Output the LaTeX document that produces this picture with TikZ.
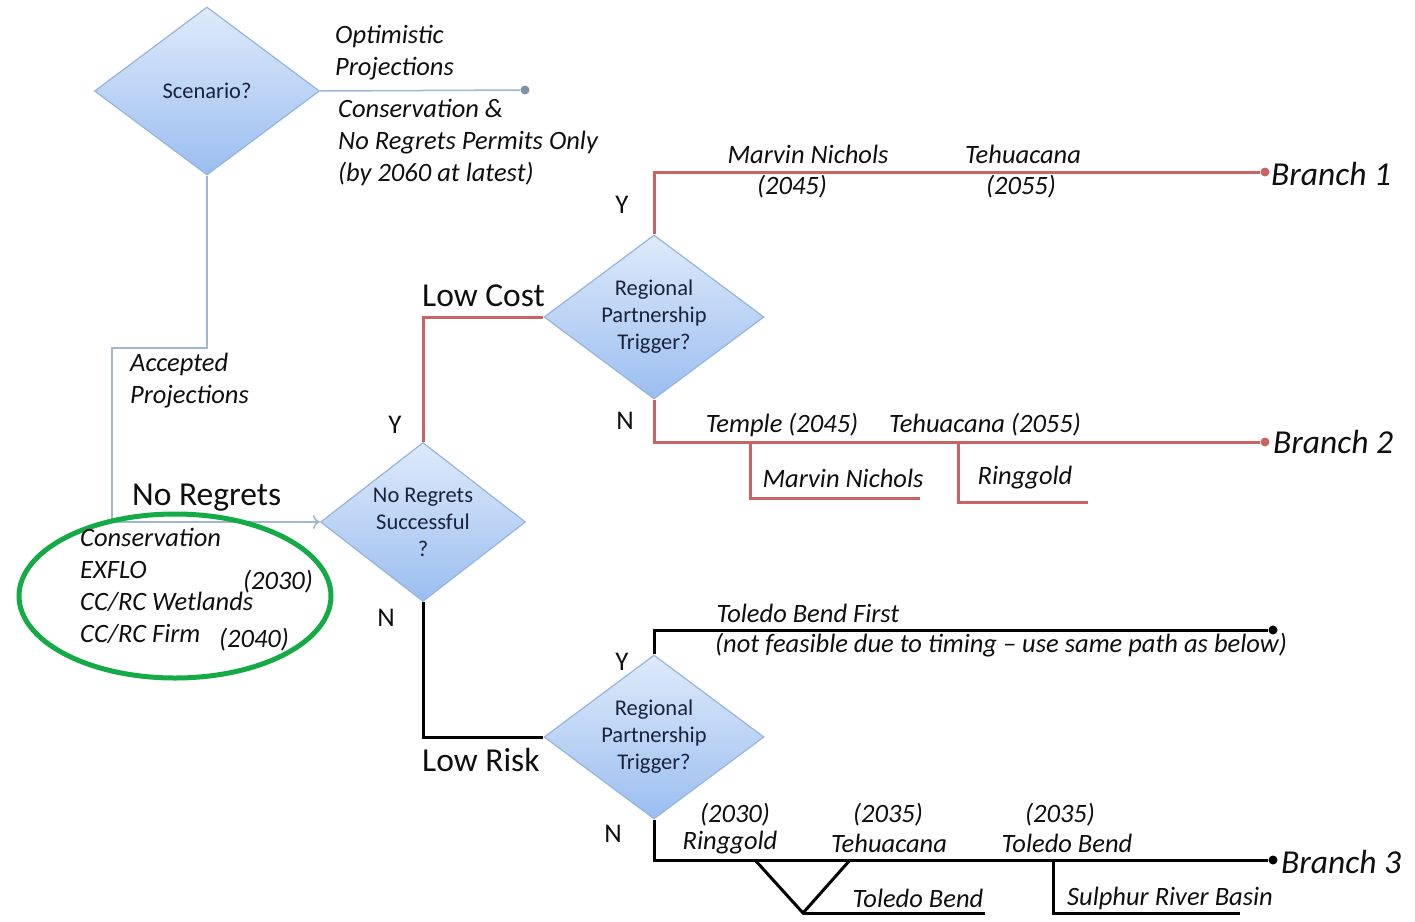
\documentclass[tikz,border=0pt]{standalone}
\usepackage{fontspec}
\setmainfont{Carlito}
\usetikzlibrary{shapes.geometric,arrows.meta}
\definecolor{bline}{RGB}{160,182,210}
\definecolor{rline}{RGB}{200,100,100}
\definecolor{dborder}{RGB}{150,180,220}
\definecolor{dtop}{RGB}{222,234,250}
\definecolor{dbot}{RGB}{155,190,240}
\definecolor{dtext}{RGB}{25,35,60}
\definecolor{txt}{RGB}{15,15,15}
\definecolor{egreen}{RGB}{20,170,70}
\tikzset{
  dec/.style={diamond, draw=dborder, line width=1.2pt, top color=dtop, bottom color=dbot,
    inner sep=0pt, align=center, text=dtext, font=\fontsize{22.5}{27}\selectfont},
  lab/.style={text=txt, font=\fontsize{26.5}{32}\selectfont\itshape, inner sep=0pt},
  big/.style={text=txt, font=\fontsize{33.5}{36}\selectfont, inner sep=0pt},
  yn/.style={text=txt, font=\fontsize{27}{30}\selectfont, inner sep=0pt},
  br/.style={text=txt, font=\fontsize{33.5}{36}\selectfont\itshape, inner sep=0pt},
  bluel/.style={draw=bline, line width=1.5pt},
  redl/.style={draw=rline, line width=3pt},
  blkl/.style={draw=black, line width=3pt},
  enddot/.style={circle, inner sep=0pt, minimum size=9pt},
}
\begin{document}
\begin{tikzpicture}[x=1pt,y=-1pt]
\useasboundingbox (0,0) rectangle (1415,921);
% decisions
\node[dec, minimum width=225pt, minimum height=168pt] (sc) at (207,91) {Scenario?};
\node[dec, minimum width=205pt, minimum height=159pt, aspect=1.3] (nr) at (423,522) {No Regrets\\Successful\\?};
\node[dec, minimum width=220pt, minimum height=164pt, aspect=1.34] (rp1) at (654,317) {Regional\\Partnership\\Trigger?};
\node[dec, minimum width=220pt, minimum height=164pt, aspect=1.34] (rp2) at (654,737) {Regional\\Partnership\\Trigger?};
% ends
\node[enddot, fill=bline!80!black] (d0) at (525,90) {};
\node[enddot, fill=rline] (b1) at (1265,172) {};
\node[enddot, fill=rline] (b2) at (1265,442) {};
\node[enddot, fill=black] (d3) at (1273,630) {};
\node[enddot, fill=black] (b3) at (1273,860) {};
\coordinate (c1) at (112,348);
% blue connectors
\draw[bluel] (sc.east) -- (d0);
\draw[bluel, -{To[length=7pt,width=14pt]}] (sc.south) |- (c1) |- (nr.west);
% red connectors
\draw[redl] (nr.north) |- (rp1.west);
\draw[redl] (rp1.north) |- (b1);
\draw[redl] (rp1.south) |- (b2);
\coordinate (s1) at (750,442); \coordinate (s1e) at (920,498);
\coordinate (s2) at (958,442); \coordinate (s2e) at (1088,502);
\draw[redl] (s1) |- (s1e);
\draw[redl] (s2) |- (s2e);
% black connectors
\draw[blkl] (nr.south) |- (rp2.west);
\draw[blkl] (rp2.north) |- (d3);
\draw[blkl] (rp2.south) |- (b3);
\coordinate (v1) at (755,860); \coordinate (v2) at (803,913); \coordinate (v3) at (850,860); \coordinate (v4) at (985,913);
\draw[blkl, line join=miter] (v1) -- (v2) -- (v3);
\draw[blkl] (v2) -- (v4);
\coordinate (t1) at (1053,860); \coordinate (t1e) at (1240,913);
\draw[blkl] (t1) |- (t1e);
% green ellipse
\draw[egreen, line width=5pt] (175,596) ellipse [x radius=156, y radius=82];
% labels
\node[lab, anchor=north west, align=left] (l1) at (335,25) {Optimistic\\Projections};
\node[lab, anchor=north west, align=left] (l2) at (338,99) {Conservation \&\\No Regrets Permits Only\\(by 2060 at latest)};
\node[lab, anchor=north west, align=left] (l3) at (130,353) {Accepted\\Projections};
\node[big, anchor=west] (l4) at (132,498) {No Regrets};
\node[lab, anchor=north west, align=left] (l5) at (80,528) {Conservation\\EXFLO\\CC/RC Wetlands\\CC/RC Firm};
\node[lab] (l6) at (278,582) {(2030)};
\node[lab] (l7) at (254,640) {(2040)};
\node[yn] (y1) at (395,425) {Y};
\node[yn] (n1) at (386,618) {N};
\node[big, anchor=west] (lc) at (422,296) {Low Cost};
\node[big, anchor=west] (lr) at (422,760) {Low Risk};
\node[yn] (y2) at (622,205) {Y};
\node[yn] (n2) at (625,421) {N};
\node[yn] (y3) at (622,662) {Y};
\node[yn] (n3) at (613,834) {N};
\node[lab] (m1) at (808,154) {Marvin Nichols};
\node[lab] (m2) at (792,187) {(2045)};
\node[lab] (m3) at (1023,154) {Tehuacana};
\node[lab] (m4) at (1021,187) {(2055)};
\node[br, anchor=west] (bl1) at (1271,174) {Branch 1};
\node[br, anchor=west] (bl2) at (1273,442) {Branch 2};
\node[br, anchor=west] (bl3) at (1281,862) {Branch 3};
\node[lab] (m5) at (782,425) {Temple (2045)};
\node[lab] (m6) at (985,425) {Tehuacana (2055)};
\node[lab] (m7) at (843,478) {Marvin Nichols};
\node[lab] (m8) at (1025,478) {Ringgold};
\node[lab] (m9) at (808,613) {Toledo Bend First};
\node[lab, anchor=west] (m10) at (715,645) {(not feasible due to timing -- use same path as below)};
\node[lab] (m11) at (735,815) {(2030)};
\node[lab] (m12) at (730,843) {Ringgold};
\node[lab] (m13) at (888,815) {(2035)};
\node[lab] (m14) at (889,843) {Tehuacana};
\node[lab] (m15) at (1060,815) {(2035)};
\node[lab] (m16) at (1067,843) {Toledo Bend};
\node[lab] (m17) at (918,898) {Toledo Bend};
\node[lab] (m18) at (1170,898) {Sulphur River Basin};
\end{tikzpicture}
\end{document}
